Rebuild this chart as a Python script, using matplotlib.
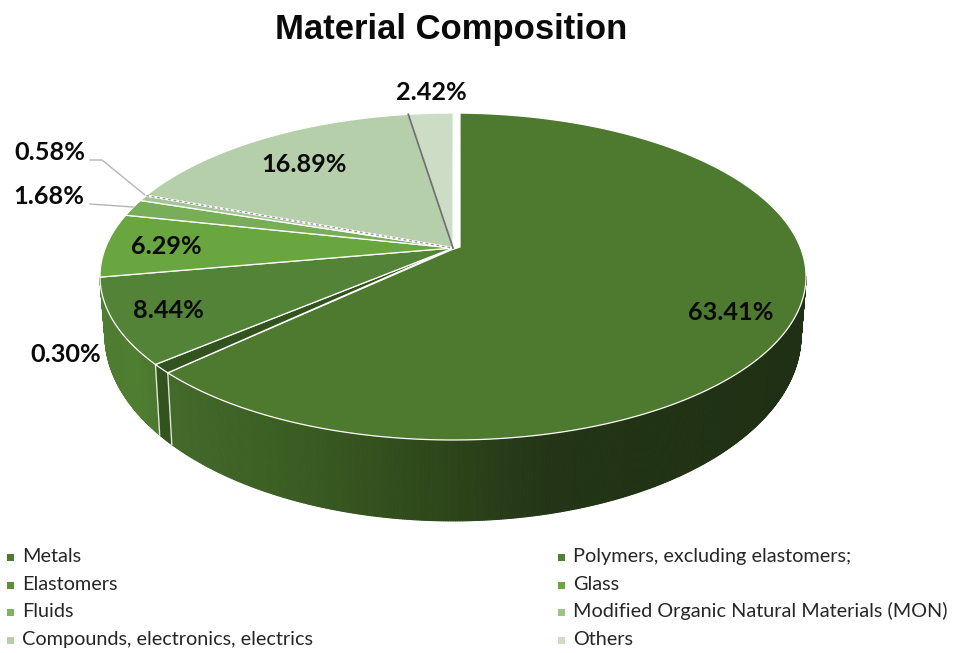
import numpy as np
import matplotlib
matplotlib.use("Agg")
import matplotlib.pyplot as plt
from matplotlib.colors import LinearSegmentedColormap
from matplotlib.patches import Polygon, Rectangle
from matplotlib.collections import PolyCollection

# Chart content
categories = ["Metals", "Polymers, excluding elastomers;", "Elastomers", "Glass", "Fluids",
              "Modified Organic Natural Materials (MON)",
              "Compounds, electronics, electrics", "Others"]
shares = [63.41, 0.30, 8.44, 6.29, 1.68, 0.58, 16.89, 2.42]
title = "Material Composition"

# Slice and legend colours
face_colors = ["#4E7A2F", "#33531E", "#528336", "#6AA640", "#78AE58", "#A3C792", "#B5CFAB", "#CDDCC5"]
legend_colors = ["#4E7A2F", "#4F8033", "#5A9038", "#6AA640", "#80B35F", "#9BC485", "#B5CFAB", "#CDDCC5"]

# Canvas-space geometry of the tilted disc
HUB = np.array([453.0, 248.0])
RX, RY, PERSP = 347.6, 158.5, 0.1744
TOP_CENTRE_Y, TOP_RX, TOP_RY = 276.5, 353.0, 163.6
FLOOR_CENTRE_Y, FLOOR_RX, FLOOR_RY = 335.0, 348.0, 186.0

# Angular trim that opens the gap around the largest slice (degrees)
METALS_TRIM_START, METALS_TRIM_END = 1.35, 2.1

# Label centres and leader lines on the canvas
label_pos = [(731, 313), (66, 355), (168, 311), (166, 246), (49, 197), (50, 153), (304, 165), (431, 92)]
leaders = {4: [(90, 204), (133, 207)], 5: [(90, 160), (102, 160), (145, 195)]}


def rim(theta_deg):
    """Perspective rim point(s) of the top face, clockwise from twelve o'clock."""
    t = np.radians(theta_deg)
    w = 1 + PERSP * np.cos(t)
    return np.column_stack((HUB[0] + RX * np.sin(t) / w, HUB[1] - RY * np.cos(t) / w))


def floor(points):
    """Map top-rim points on to the lower outline of the disc wall."""
    ux = (points[:, 0] - HUB[0]) / TOP_RX
    uy = (points[:, 1] - TOP_CENTRE_Y) / TOP_RY
    return np.column_stack((HUB[0] + FLOOR_RX * ux, FLOOR_CENTRE_Y + FLOOR_RY * uy))


def arc(a, b):
    return np.linspace(a, b, max(int(abs(b - a) * 3), 3))


fig = plt.figure(figsize=(9.57, 6.53), dpi=100)
ax = fig.add_axes([0, 0, 1, 1])
ax.set_xlim(0, 957)
ax.set_ylim(653, 0)
ax.axis("off")

edges = np.concatenate(([0], np.cumsum(shares))) * 3.6
starts, ends = edges[:-1].copy(), edges[1:].copy()

# The Metals slice is pulled clear of its neighbours; the polymer sliver fills the gap it leaves.
starts[0] += METALS_TRIM_START
ends[0] -= METALS_TRIM_END
starts[1] -= METALS_TRIM_END
starts[0] = edges[0] + 1.35

# Outer walls, shaded across the width of the disc
metals_wall = LinearSegmentedColormap.from_list(
    "metals_wall", [(0, "#43692B"), (0.2, "#3A5C22"), (0.44, "#2D451A"), (0.6, "#233516"), (1, "#1F3014")])
elastomer_wall = LinearSegmentedColormap.from_list("elastomer_wall", ["#4E7C30", "#4F7E31", "#47742C"])
wall_maps = {0: (metals_wall, 172, 800), 2: (elastomer_wall, 105, 165)}

for i in (0, 1, 2):
    angles = arc(max(starts[i], 100), min(ends[i], 262))
    top = rim(angles)
    low = floor(top)
    quads, colours = [], []
    for j in range(len(angles) - 1):
        quads.append([top[j], top[j + 1], low[j + 1], low[j]])
        xm = (top[j, 0] + top[j + 1, 0]) / 2
        if i in wall_maps:
            cmap, x0, x1 = wall_maps[i]
            colours.append(cmap(np.clip((xm - x0) / (x1 - x0), 0, 1)))
        else:
            colours.append(face_colors[1])
    ax.add_collection(PolyCollection(quads, facecolors=colours, edgecolors=colours, linewidths=0.8, zorder=1))
    # Pale seams down the cut ends of the walls
    if i == 0:
        ax.plot([top[-1, 0], low[-1, 0]], [top[-1, 1], low[-1, 1]], color="#DDE6D8", lw=1.0, zorder=1.5)
    if i == 2:
        ax.plot([top[0, 0], low[0, 0]], [top[0, 1], low[0, 1]], color="#DDE6D8", lw=1.0, zorder=1.5)

# Top faces
for i in range(len(shares)):
    ring = rim(arc(starts[i], ends[i]))
    if i == 0:
        corner = np.array([[HUB[0] - 2, HUB[1] + 2], [HUB[0] + 7, HUB[1] - 1]])
        outline = np.vstack((ring, corner))
    else:
        outline = np.vstack((ring, HUB))
    ax.add_patch(Polygon(outline, closed=True, facecolor=face_colors[i], edgecolor="white",
                         linewidth=0.9, joinstyle="round", zorder=2 + i * 0.01))

# Seams between the lighter slices
mon_edge = rim(np.array([ends[5]]))[0]
ax.plot([mon_edge[0], HUB[0]], [mon_edge[1], HUB[1]], color="white", lw=1.6, zorder=3)
ax.plot([mon_edge[0], HUB[0]], [mon_edge[1], HUB[1]], color="#9A9A9A", lw=1.0, ls=(0, (2, 2)), zorder=3.1)
others_edge = rim(np.array([starts[7]]))[0]
ax.plot([others_edge[0], HUB[0]], [others_edge[1], HUB[1]], color="#707070", lw=1.3, zorder=3)

# Leader lines
for pts in leaders.values():
    xs, ys = zip(*pts)
    ax.plot(xs, ys, color="#B5B5B5", lw=1.0, zorder=2.5)

# Value labels
for value, (x, y) in zip(shares, label_pos):
    ax.text(x, y, f"{value:.2f}%", ha="center", va="center", family="Lato", fontweight="bold",
            fontsize=18.2, color="#0A0A0A", zorder=5)

ax.text(451, 29, title, ha="center", va="center", family="Liberation Sans", fontweight="bold",
        fontsize=24.9, color="#0A0A0A", zorder=5)

# Legend, laid out row by row in two columns
rows = [557, 585, 612, 640]
for i, (name, colour) in enumerate(zip(categories, legend_colors)):
    col_x = 10 if i % 2 == 0 else 561
    y = rows[i // 2]
    ax.add_patch(Rectangle((col_x - 3.5, y - 3.5), 7, 7, facecolor=colour, edgecolor="none", zorder=5))
    ax.text(col_x + 12, y + 5, name, ha="left", va="baseline", family="Lato", fontsize=14.3,
            color="#262626", zorder=5)

fig.savefig("out.png", dpi=100, facecolor="white")
